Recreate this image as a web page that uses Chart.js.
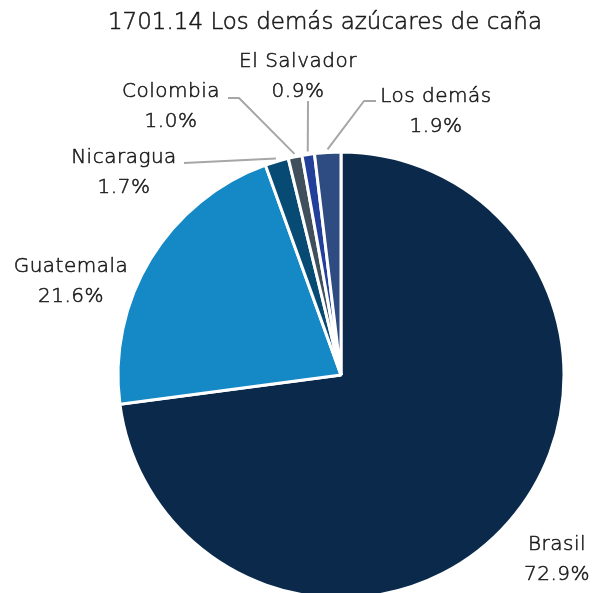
<!DOCTYPE html>
<html>
<head>
<meta charset="utf-8">
<script src="https://cdn.jsdelivr.net/npm/chart.js@4.4.1/dist/chart.umd.min.js"></script>
<style>
  html, body { margin: 0; padding: 0; background: #ffffff; overflow: hidden; }
  #c { display: block; }
</style>
</head>
<body>
<canvas id="c" width="592" height="593"></canvas>
<script>
const titleText = '1701.14 Los demás azúcares de caña';
const categories = ['Brasil', 'Guatemala', 'Nicaragua', 'Colombia', 'El Salvador', 'Los demás'];
const shares = [72.9, 21.6, 1.7, 1.0, 0.9, 1.9];
const colors = ['#0b2a4b', '#1489c6', '#074b75', '#3f4f5c', '#22409a', '#2e4b82'];

// label layout: text centre x, baseline of first line, optional leader start/elbow points
const labelLayout = [
  { x: 557, y: 550, leader: null },
  { x: 71,  y: 272, leader: null },
  { x: 124, y: 163, leader: [[184, 163]] },
  { x: 171, y: 97,  leader: [[228, 98], [239, 98]] },
  { x: 298, y: 67,  leader: [[308, 101]] },
  { x: 436, y: 102, leader: [[376, 101], [364, 101]] }
];

const FONT = '"DejaVu Sans", sans-serif';

function drawText(ctx, s, x, y) {
  ctx.fillText(s, x, y);
  ctx.strokeText(s, x, y);
}

const labelPlugin = {
  id: 'pieLabels',
  afterDraw(chart) {
    const ctx = chart.ctx;
    const meta = chart.getDatasetMeta(0);
    ctx.save();
    ctx.textAlign = 'center';
    ctx.textBaseline = 'alphabetic';
    ctx.lineJoin = 'round';

    meta.data.forEach((arc, i) => {
      const lay = labelLayout[i];
      const p = arc.getProps(['x', 'y', 'startAngle', 'endAngle', 'outerRadius'], true);
      if (lay.leader) {
        const mid = (p.startAngle + p.endAngle) / 2;
        const r = p.outerRadius + 3;
        const ex = p.x + Math.cos(mid) * r;
        const ey = p.y + Math.sin(mid) * r;
        ctx.strokeStyle = '#a6a6a6';
        ctx.lineWidth = 2;
        ctx.beginPath();
        ctx.moveTo(lay.leader[0][0], lay.leader[0][1]);
        for (let k = 1; k < lay.leader.length; k++) ctx.lineTo(lay.leader[k][0], lay.leader[k][1]);
        ctx.lineTo(ex, ey);
        ctx.stroke();
      }
    });

    ctx.fillStyle = '#1a1a1a';
    ctx.strokeStyle = '#1a1a1a';
    ctx.lineWidth = 0.55;
    // title
    ctx.font = '200 23px ' + FONT;
    ctx.letterSpacing = '0px';
    drawText(ctx, titleText, 325, 29);

    ctx.font = '200 20px ' + FONT;
    ctx.letterSpacing = '0.5px';
    categories.forEach((name, i) => {
      const lay = labelLayout[i];
      drawText(ctx, name, lay.x, lay.y);
      drawText(ctx, shares[i].toFixed(1) + '%', lay.x, lay.y + 30);
    });
    ctx.restore();
  }
};

new Chart(document.getElementById('c'), {
  type: 'pie',
  data: {
    labels: categories,
    datasets: [{
      data: shares,
      backgroundColor: colors,
      borderColor: '#ffffff',
      borderWidth: 3,
      clip: false
    }]
  },
  options: {
    responsive: false,
    animation: false,
    radius: 223,
    layout: { padding: { left: 90, top: 157, right: 0, bottom: 0 } },
    plugins: {
      legend: { display: false },
      tooltip: { enabled: false },
      title: { display: false }
    }
  },
  plugins: [labelPlugin]
});
</script>
</body>
</html>
